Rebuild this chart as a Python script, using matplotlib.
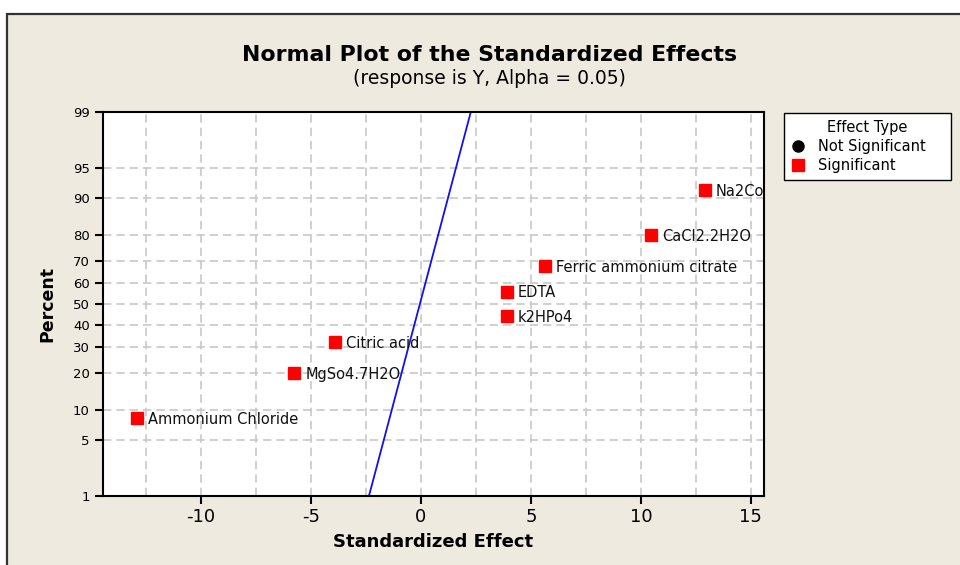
import numpy as np
from statistics import NormalDist
import matplotlib
matplotlib.use("Agg")
from matplotlib import pyplot as plt
from matplotlib.patches import Rectangle
from matplotlib.lines import Line2D

# Effects
terms = ["Ammonium Chloride", "MgSo4.7H2O", "Citric acid", "k2HPo4",
         "EDTA", "Ferric ammonium citrate", "CaCl2.2H2O", "Na2Co3"]
effects = [-12.9, -5.75, -3.9, 3.9, 3.9, 5.65, 10.45, 12.9]
percents = [8.3, 20.2, 32.1, 44.0, 56.0, 67.9, 79.8, 91.7]

# fitted reference line (effect at 1% and 99%)
line_effect = [-2.36, 2.27]
line_pct = [1, 99]

y_ticks = [1, 5, 10, 20, 30, 40, 50, 60, 70, 80, 90, 95, 99]
x_ticks = [-10, -5, 0, 5, 10, 15]
x_grid = np.arange(-12.5, 15.1, 2.5)

nd = NormalDist()
_ppf = np.vectorize(nd.inv_cdf, otypes=[float])
_cdf = np.vectorize(nd.cdf, otypes=[float])

def fwd(p):
    p = np.clip(np.asarray(p, dtype=float) / 100.0, 1e-9, 1 - 1e-9)
    return _ppf(p)

def inv(z):
    return _cdf(np.asarray(z, dtype=float)) * 100.0

bg = "#EEEAE0"
fig = plt.figure(figsize=(9.6, 5.65), dpi=100, facecolor="white")
# outer panel of the graph window
fig.patches.append(Rectangle((7 / 960, -0.05), 1.2, 1 - 14 / 565 + 0.05,
                             transform=fig.transFigure, facecolor=bg,
                             edgecolor="#333333", linewidth=1.6, zorder=-5))

ax = fig.add_axes([103 / 960, 69 / 565, 661 / 960, 384 / 565])
ax.set_facecolor("white")
ax.set_yscale("function", functions=(fwd, inv))
ax.set_ylim(1, 99)
ax.set_xlim(-14.45, 15.6)

for x in x_grid:
    ax.axvline(x, color="#c8c8c8", linestyle=(0, (5, 3)), linewidth=1.2, zorder=1)
for y in y_ticks[1:-1]:
    ax.axhline(y, color="#c8c8c8", linestyle=(0, (5, 3)), linewidth=1.2, zorder=1)

ax.plot(line_effect, line_pct, color="#1010f0", linewidth=1.3, zorder=2)
ax.plot(effects, percents, linestyle="none", marker="s", markersize=8.5,
        color="#ff0000", zorder=3)
for t, x, y in zip(terms, effects, percents):
    ax.annotate(t, (x, y), xytext=(8, -1), textcoords="offset points",
                va="center", ha="left", fontsize=10.5, color="#111111",
                clip_on=True, annotation_clip=True)

ax.set_yticks(y_ticks)
ax.set_yticklabels([str(v) for v in y_ticks], fontsize=9.5)
ax.set_xticks(x_ticks)
ax.set_xticklabels([str(v) for v in x_ticks], fontsize=13)
ax.minorticks_off()
ax.tick_params(axis="both", direction="out", length=6, width=1.5, color="black")
ax.tick_params(axis="x", pad=3)
for s in ax.spines.values():
    s.set_linewidth(1.5)
    s.set_color("black")

ax.set_xlabel("Standardized Effect", fontsize=13, fontweight="bold", labelpad=5)
ax.set_ylabel("Percent", fontsize=12.5, fontweight="bold", labelpad=12)

fig.text(490 / 960, 1 - 55 / 565, "Normal Plot of the Standardized Effects",
         ha="center", va="center", fontsize=15.8, fontweight="bold")
fig.text(489 / 960, 1 - 78 / 565, "(response is Y, Alpha = 0.05)",
         ha="center", va="center", fontsize=13.5)

handles = [Line2D([], [], linestyle="none", marker="o", color="black", markersize=8),
           Line2D([], [], linestyle="none", marker="s", color="#ff0000", markersize=8)]
leg = fig.legend(handles, ["Not Significant", "Significant"], title="Effect Type",
                 loc="upper left",
                 bbox_to_anchor=(784 / 960, 1 - 181 / 565, 167 / 960, 68 / 565),
                 mode="expand", borderaxespad=0, fontsize=10.5, title_fontsize=10.5,
                 frameon=True, fancybox=False, framealpha=1,
                 edgecolor="black", handlelength=1.0, handletextpad=0.9,
                 borderpad=0.45, labelspacing=0.3)
leg.get_frame().set_linewidth(1.0)

fig.savefig("out.png", dpi=100, facecolor=fig.get_facecolor())
